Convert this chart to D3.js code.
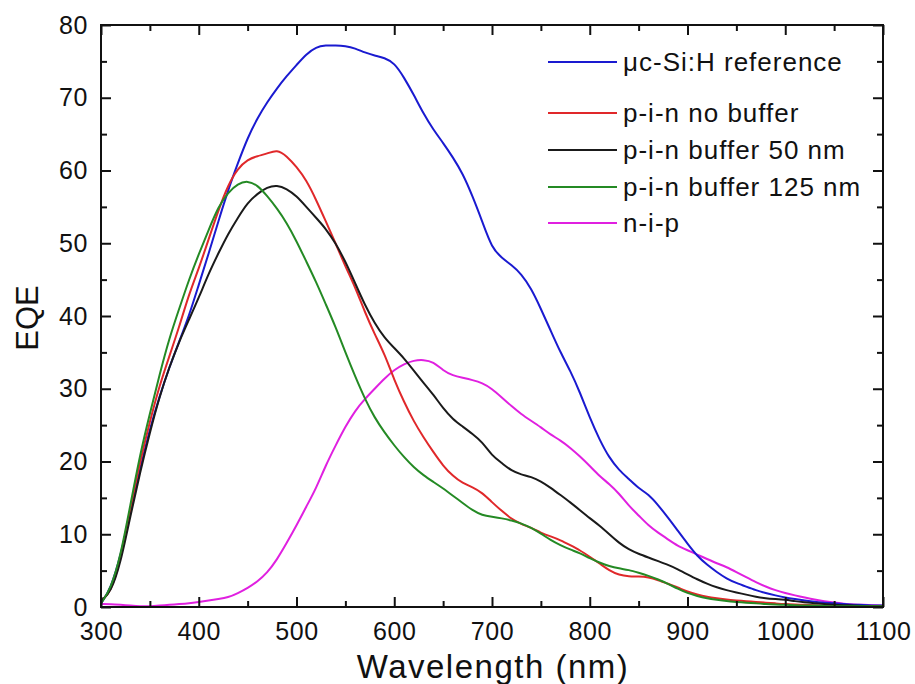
<!DOCTYPE html>
<html>
<head>
<meta charset="utf-8">
<script src="https://cdn.jsdelivr.net/npm/d3@7"></script>
<style>
  body { margin: 0; background: #fff; }
  text { font-family: "Liberation Sans", Arial, sans-serif; fill: #111; }
</style>
</head>
<body>
<div id="viz"></div>
<script>
const wavelength = d3.range(300, 1101, 10);

const seriesNames = ['\u03bcc-Si:H reference', 'p-i-n no buffer', 'p-i-n buffer 50 nm', 'p-i-n buffer 125 nm', 'n-i-p'];
const seriesColors = ['#1a1ad0', '#e0282a', '#1a1a1a', '#248a24', '#e020e0'];

const refEQE = [0.5, 2.5, 7, 13, 19, 24.5, 29, 33, 36.5, 40,
    44.3, 48.5, 53, 57.3, 61, 64.5, 67.2, 69.4, 71.3, 73,
    74.5, 76, 77, 77.2, 77.2, 77.1, 76.8, 76.2, 75.8, 75.5,
    74.8, 72.8, 70.4, 67.8, 65.6, 63.8, 61.8, 59.6, 56.5, 53,
    49.3, 48, 47, 45.8, 43.8, 41, 38, 35, 32.5, 29.5,
    26, 23, 20.5, 18.8, 17.6, 16.3, 15.5, 14, 12.3, 10.5,
    8.7, 7, 5.8, 4.8, 3.9, 3.3, 2.8, 2.3, 1.9, 1.6,
    1.3, 1.1, 0.9, 0.7, 0.6, 0.5, 0.4, 0.3, 0.3, 0.2, 0.2];

const noBufferEQE = [0.8, 2, 6.5, 13.5, 20, 25.5, 30.5, 34.5, 38.5, 43,
    46.5, 50.5, 54.5, 58, 60.3, 61.5, 62, 62.3, 62.9, 62,
    60.5, 58.7, 56, 53, 50, 46.8, 44, 40.5, 37.5, 34.8,
    31.2, 28.2, 25.5, 23.3, 21.3, 19.4, 18, 17, 16.5, 15.7,
    14.4, 13.2, 12.1, 11.4, 10.9, 10.2, 9.7, 9.2, 8.5, 7.8,
    6.9, 6, 5, 4.4, 4.2, 4.2, 4.1, 3.7, 3.2, 2.7,
    2.1, 1.7, 1.4, 1.2, 1, 0.9, 0.8, 0.7, 0.6, 0.5,
    0.4, 0.35, 0.3, 0.25, 0.2, 0.2, 0.15, 0.1, 0.1, 0.1, 0.1];

const buffer50EQE = [0.8, 2, 6, 12.5, 18.5, 24, 29, 33, 36.5, 39.5,
    42.5, 45.8, 48.6, 51.3, 53.5, 55.6, 56.8, 57.7, 58, 57.5,
    56.5, 55, 53.5, 52, 50, 47.5, 44.5, 41.5, 39, 37,
    35.6, 34.2, 32.5, 30.8, 29.2, 27.3, 25.8, 24.8, 23.8, 22.7,
    20.8, 19.8, 18.7, 18.2, 17.9, 17.3, 16.4, 15.4, 14.4, 13.3,
    12.2, 11.2, 10, 8.8, 7.9, 7.3, 6.8, 6.3, 5.8, 5.2,
    4.5, 3.8, 3.2, 2.7, 2.3, 2, 1.7, 1.4, 1.2, 1.1,
    1, 0.8, 0.65, 0.5, 0.4, 0.3, 0.25, 0.2, 0.15, 0.1, 0.1];

const buffer125EQE = [0.5, 2.5, 7, 14, 21, 26.6, 32, 37, 41, 45,
    48.5, 51.8, 55, 57, 58.2, 58.6, 58, 56.5, 54.8, 52.8,
    50.3, 47.5, 44.7, 41.6, 38.5, 35, 31.7, 28.6, 26, 24,
    22.2, 20.6, 19.2, 18.1, 17.2, 16.3, 15.3, 14.3, 13.3, 12.6,
    12.4, 12.2, 11.9, 11.5, 10.9, 10.1, 9.2, 8.5, 7.9, 7.4,
    6.7, 6.1, 5.6, 5.3, 5.1, 4.7, 4.3, 3.8, 3.2, 2.5,
    1.9, 1.5, 1.2, 1, 0.8, 0.7, 0.6, 0.5, 0.4, 0.35,
    0.3, 0.25, 0.2, 0.2, 0.15, 0.1, 0.1, 0.1, 0.1, 0.1, 0.1];

const nipEQE = [0.4, 0.4, 0.3, 0.2, 0.1, 0.1, 0.2, 0.3, 0.4, 0.5,
    0.7, 0.9, 1.1, 1.3, 1.9, 2.6, 3.5, 4.7, 6.5, 8.8,
    11.2, 13.8, 16.3, 19.5, 22.2, 24.8, 27, 28.6, 30, 31.4,
    32.6, 33.4, 33.9, 34, 33.7, 32.5, 31.8, 31.5, 31.2, 30.8,
    30, 28.8, 27.6, 26.5, 25.6, 24.7, 23.7, 22.9, 21.9, 20.7,
    19.4, 18, 16.9, 15.6, 13.9, 12.6, 11.2, 10.2, 9.3, 8.4,
    7.8, 7.2, 6.6, 6, 5.5, 4.8, 4.1, 3.4, 2.8, 2.3,
    1.9, 1.6, 1.3, 1, 0.8, 0.6, 0.45, 0.35, 0.3, 0.25, 0.2];

const xTicks = [300, 400, 500, 600, 700, 800, 900, 1000, 1100];
const yTicks = [0, 10, 20, 30, 40, 50, 60, 70, 80];

const allSeries = [refEQE, noBufferEQE, buffer50EQE, buffer125EQE, nipEQE];

const svg = d3.select('#viz')
    .append('svg')
    .attr('width', 915)
    .attr('height', 684);

const margin = {top: 25, right: 32, bottom: 77, left: 101},
    width = +svg.attr('width') - margin.left - margin.right,
    height = +svg.attr('height') - margin.top - margin.bottom;

const x = d3.scaleLinear().domain([300, 1100]).range([0, width]);
const y = d3.scaleLinear().domain([0, 80]).range([height, 0]);

const g = svg.append('g')
    .attr('transform', 'translate(' + margin.left + ',' + margin.top + ')');

const line = d3.line()
    .x(function(d) { return x(d[0]); })
    .y(function(d) { return y(d[1]); })
    .curve(d3.curveBasis);

// draw order: magenta at back, ref, then red, black, green
[4, 0, 1, 2, 3].forEach(function(i) {
    g.append('path')
        .datum(d3.zip(wavelength, allSeries[i]))
        .attr('fill', 'none')
        .attr('stroke', seriesColors[i])
        .attr('stroke-width', 2)
        .attr('stroke-linejoin', 'round')
        .attr('d', line);
});

// axes: inward ticks (major + minor), mirrored on top/right
const minorX = d3.range(350, 1100, 100);
const minorY = d3.range(5, 80, 10);

function styleAxis(sel) {
    sel.select('.domain').remove();
    sel.selectAll('line').attr('stroke', '#111').attr('stroke-width', 2);
    sel.selectAll('text').style('font-size', '25px').style('letter-spacing', '0.6px');
}

styleAxis(g.append('g')
    .attr('transform', 'translate(0,' + height + ')')
    .call(d3.axisBottom(x).tickValues(xTicks).tickSize(-10).tickPadding(15).tickFormat(d3.format('d'))));
styleAxis(g.append('g')
    .attr('transform', 'translate(0,' + height + ')')
    .call(d3.axisBottom(x).tickValues(minorX).tickSize(-6).tickFormat('')));

styleAxis(g.append('g')
    .call(d3.axisTop(x).tickValues(xTicks).tickSize(-10).tickFormat('')));
styleAxis(g.append('g')
    .call(d3.axisTop(x).tickValues(minorX).tickSize(-6).tickFormat('')));

styleAxis(g.append('g')
    .call(d3.axisLeft(y).tickValues(yTicks).tickSize(-10).tickPadding(13)));
styleAxis(g.append('g')
    .call(d3.axisLeft(y).tickValues(minorY).tickSize(-6).tickFormat('')));

styleAxis(g.append('g')
    .attr('transform', 'translate(' + width + ',0)')
    .call(d3.axisRight(y).tickValues(yTicks).tickSize(-10).tickFormat('')));
styleAxis(g.append('g')
    .attr('transform', 'translate(' + width + ',0)')
    .call(d3.axisRight(y).tickValues(minorY).tickSize(-6).tickFormat('')));

g.append('rect')
    .attr('width', width)
    .attr('height', height)
    .attr('fill', 'none')
    .attr('stroke', '#111')
    .attr('stroke-width', 2);

// axis titles
svg.append('text')
    .attr('x', 493)
    .attr('y', 678)
    .attr('text-anchor', 'middle')
    .style('font-size', '33px')
    .style('letter-spacing', '1.5px')
    .text('Wavelength (nm)');

svg.append('text')
    .attr('transform', 'translate(38,' + (margin.top + height / 2 + 2) + ') rotate(-90)')
    .attr('text-anchor', 'middle')
    .style('font-size', '31px')
    .text('EQE');

// legend
const legendRows = [62, 113, 150, 187, 223];
const legend = svg.append('g');
seriesNames.forEach(function(name, i) {
    legend.append('line')
        .attr('x1', 548).attr('x2', 617)
        .attr('y1', legendRows[i]).attr('y2', legendRows[i])
        .attr('stroke', seriesColors[i])
        .attr('stroke-width', 2);
    legend.append('text')
        .attr('x', 623)
        .attr('y', legendRows[i])
        .attr('dy', '0.35em')
        .style('font-size', '26px')
        .style('letter-spacing', '1px')
        .text(name);
});
</script>
</body>
</html>
